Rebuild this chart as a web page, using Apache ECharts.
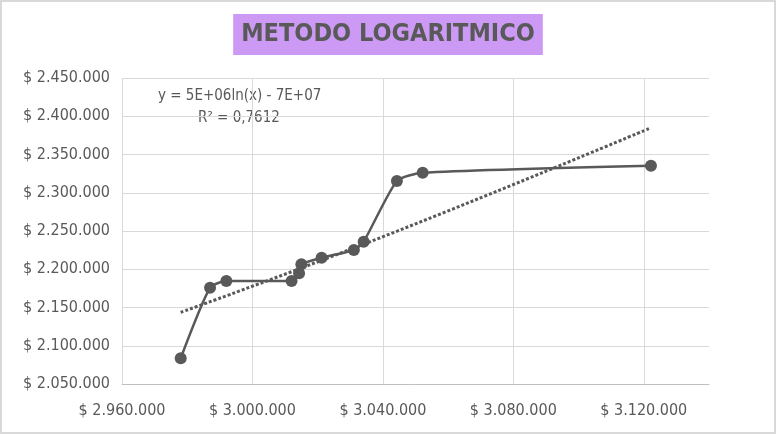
<!DOCTYPE html>
<html>
<head>
<meta charset="utf-8">
<script src="https://cdn.jsdelivr.net/npm/echarts@6/dist/echarts.min.js"></script>
<style>
  html, body { margin: 0; padding: 0; background: #d9d9d9; }
  #chart { position: absolute; left: 2px; top: 2px; width: 772px; height: 430px; background: #fff; }
</style>
</head>
<body>
<div id="chart"></div>
<script>
// precios (x) vs valores (y)
const xValues = [2978000, 2987000, 2992000, 3012000, 3014300, 3015000, 3021200, 3031100, 3034100, 3044300, 3052200, 3122200];
const yValues = [2083600, 2175900, 2184600, 2184600, 2194700, 2206500, 2215100, 2225200, 2236000, 2315400, 2326200, 2335400];
// linea de tendencia logaritmica (leida)
const trendX = [2978000, 3040000, 3122000];
const trendY = [2143700, 2242500, 2384600];
const xTicks = [2960000, 3000000, 3040000, 3080000, 3120000];
const yTicks = [2050000, 2100000, 2150000, 2200000, 2250000, 2300000, 2350000, 2400000, 2450000];

const font = '"Liberation Sans Narrow", "DejaVu Sans Condensed", sans-serif';
const grey = '#595959';

function money(v) {
  return '$ ' + String(Math.round(v)).replace(/\B(?=(\d{3})+(?!\d))/g, '.');
}

const chart = echarts.init(document.getElementById('chart'));
chart.setOption({
  animation: false,
  title: {
    text: 'METODO LOGARITMICO',
    left: 'center',
    top: 12,
    backgroundColor: '#cc99f5',
    padding: [8, 8, 8, 8],
    textStyle: { fontFamily: font, fontSize: 25, fontWeight: 'bold', color: grey }
  },
  graphic: [
    {
      type: 'text', left: 156, top: 87,
      style: { text: 'y = 5E+06ln(x) - 7E+07', font: '15px ' + font, fill: grey }
    },
    {
      type: 'text', left: 196, top: 109,
      style: { text: 'R² = 0,7612', font: '15px ' + font, fill: grey }
    }
  ],
  grid: { left: 120, right: 65, top: 76, bottom: 48 },
  xAxis: {
    type: 'value',
    min: xTicks[0],
    max: 3140000,
    interval: 40000,
    axisLine: { show: true, onZero: false, lineStyle: { color: '#bfbfbf' } },
    axisTick: { show: false },
    axisLabel: {
      fontFamily: font, fontSize: 16, color: grey, margin: 19,
      showMaxLabel: false,
      formatter: v => xTicks.includes(v) ? money(v) : ''
    },
    splitLine: { show: true, showMaxLine: false, lineStyle: { color: '#d9d9d9' } }
  },
  yAxis: {
    type: 'value',
    min: yTicks[0],
    max: yTicks[yTicks.length - 1],
    interval: 50000,
    axisLine: { show: false },
    axisTick: { show: false },
    axisLabel: { fontFamily: font, fontSize: 16, color: grey, margin: 12, formatter: money },
    splitLine: { show: true, lineStyle: { color: '#d9d9d9' } }
  },
  series: [
    {
      type: 'line',
      data: trendX.map((x, i) => [x, trendY[i]]),
      showSymbol: false,
      smooth: true,
      lineStyle: { color: grey, width: 3, type: [3, 2] },
      z: 2
    },
    {
      type: 'line',
      data: xValues.map((x, i) => [x, yValues[i]]),
      smooth: 0.2,
      symbol: 'circle',
      symbolSize: 12,
      itemStyle: { color: grey },
      lineStyle: { color: grey, width: 2.5 },
      z: 3
    }
  ]
});
</script>
</body>
</html>
